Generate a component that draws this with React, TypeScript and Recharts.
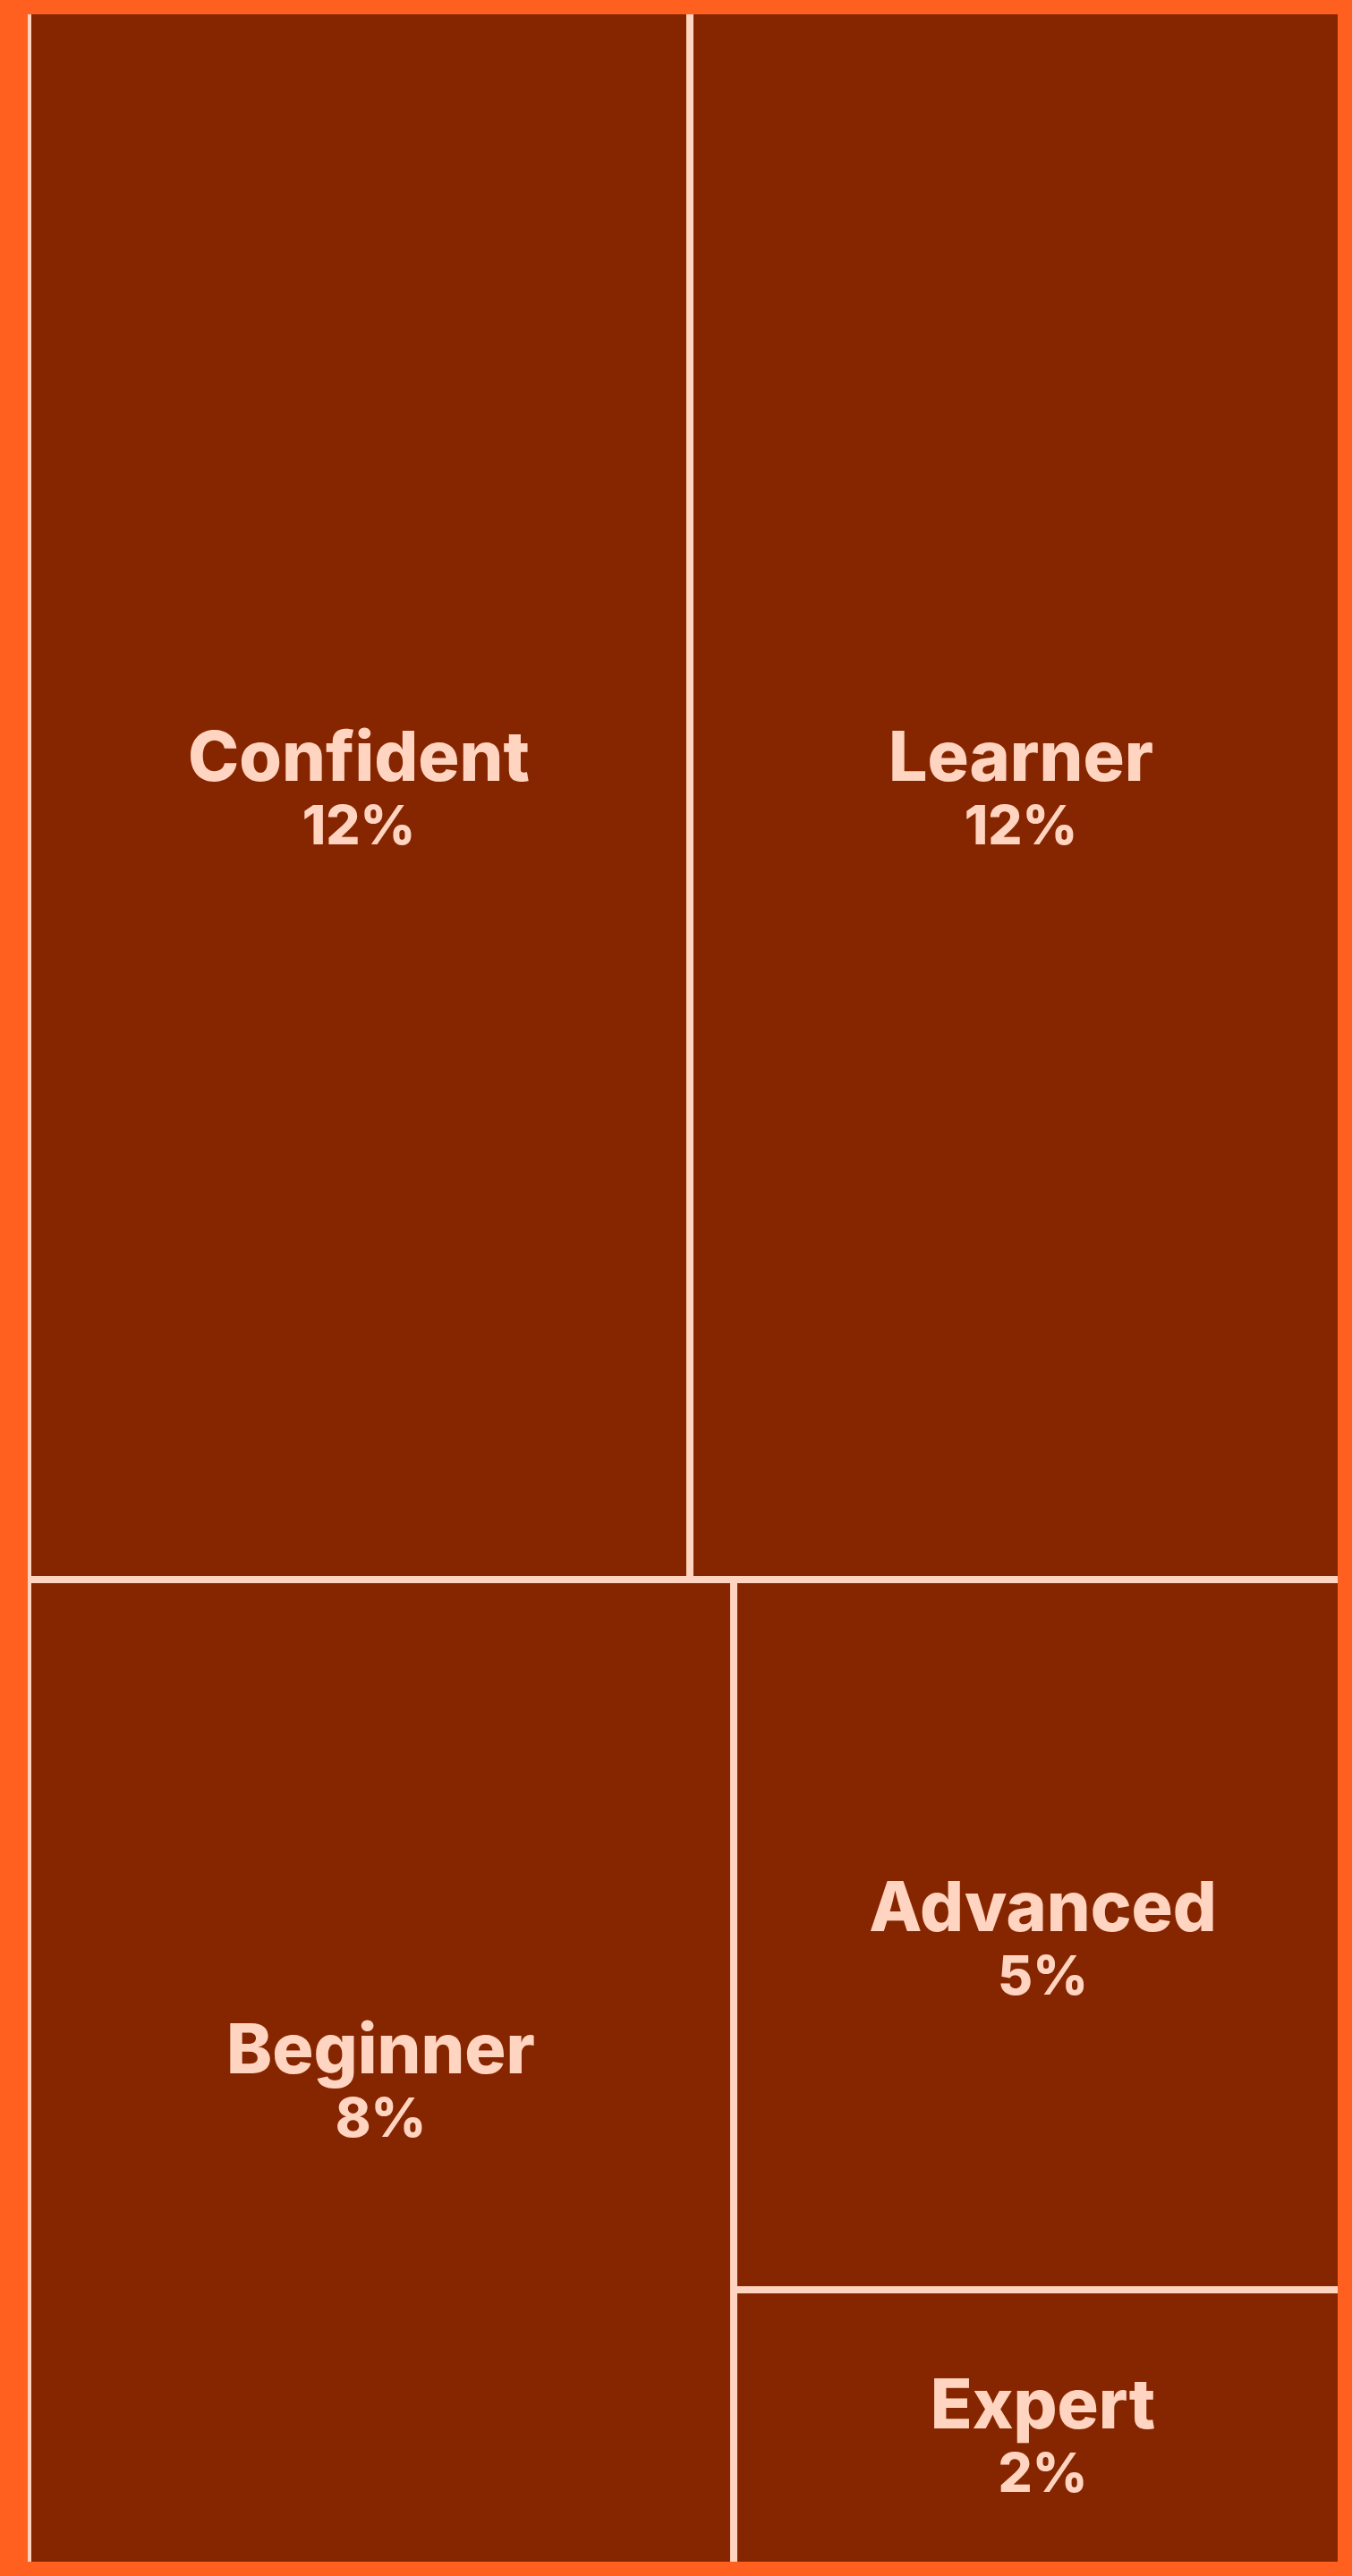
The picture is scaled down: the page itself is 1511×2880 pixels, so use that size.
import { Treemap } from "recharts";

const categories = ["Confident", "Learner", "Beginner", "Advanced", "Expert"];
const shares = [12, 12, 8, 5, 2];

const data = categories.map((name, i) => ({ name, value: shares[i] }));

const ORANGE = "#FF601F";
const DARK = "#862600";
const PALE = "#FFD4C1";

const Tile = (props: any) => {
  const { x, y, width, height, depth, name, value } = props;
  if (depth !== 1) return <g />;
  const cx = x + width / 2;
  const cy = y + height / 2;
  return (
    <g>
      <rect x={x} y={y} width={width} height={height} fill={DARK} stroke={PALE} strokeWidth={8} />
      <text
        x={cx}
        y={cy - 4}
        textAnchor="middle"
        fill={PALE}
        stroke="none"
        fontFamily="Inter, sans-serif"
        fontWeight={800}
        fontSize={77}
      >
        {name}
      </text>
      <text
        x={cx}
        y={cy + 67}
        textAnchor="middle"
        fill={PALE}
        stroke="none"
        fontFamily="Inter, sans-serif"
        fontWeight={800}
        fontSize={60}
      >
        {`${value}%`}
      </text>
    </g>
  );
};

export default function App() {
  return (
    <div style={{ position: "absolute", left: 0, top: 0, width: 1511, height: 2880, background: ORANGE }}>
      <div style={{ position: "absolute", left: 16, top: 16, width: 1479, height: 2848, overflow: "hidden" }}>
        <div style={{ position: "absolute", left: 15, top: -28 }}>
          <Treemap
            width={1480}
            height={2890}
            data={data}
            dataKey="value"
            nameKey="name"
            aspectRatio={1.33}
            isAnimationActive={false}
            content={<Tile />}
          />
        </div>
      </div>
    </div>
  );
}
